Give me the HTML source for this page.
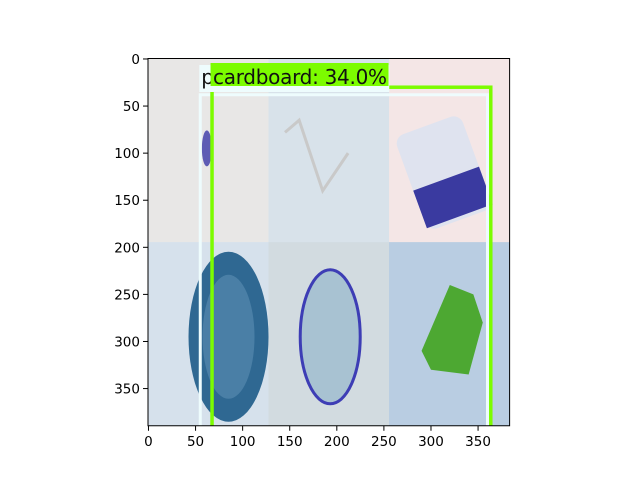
<!DOCTYPE html>
<html><head><meta charset="utf-8"><style>
html,body{margin:0;padding:0;background:#fff;}
svg{display:block;font-family:"DejaVu Sans","Liberation Sans",sans-serif;}
</style></head><body>
<svg id="chart" width="640" height="480" viewBox="0 0 640 480"></svg>
<script>
const xTicks = [0,50,100,150,200,250,300,350];
const yTicks = [0,50,100,150,200,250,300,350];
const imgW = 384, imgH = 390;
const boxLabels = ["p", "cardboard: 34.0%"];
const boxX0 = [55, 67.5];
const boxY0 = [38, 30];
const boxX1 = [360, 363.5];
const boxY1 = [400, 400];

const NS="http://www.w3.org/2000/svg";
const svg=document.getElementById('chart');
const L=148, T=58.5, S=0.9417;
const sx=v=>L+(v+0.5)*S, sy=v=>T+(v+0.5)*S;
const W=imgW*S, H=imgH*S;
function mk(tag,attrs,parent){const e=document.createElementNS(NS,tag);for(const k in attrs)e.setAttribute(k,attrs[k]);(parent||svg).appendChild(e);return e;}
const defs=mk('defs',{});
const cp=mk('clipPath',{id:'ax'},defs);mk('rect',{x:L,y:T,width:W,height:H},cp);
const g=mk('g',{'clip-path':'url(#ax)'});


const cw=128, ch=195;
const cellCols=[["#e8e7e6","#d8e2ea","#f4e6e6"],["#d6e1ec","#d2dbe0","#b9cde2"]];
for(let r=0;r<2;r++)for(let c=0;c<3;c++){
 const e=mk('rect',{x:sx(c*cw-0.5),y:sy(r*ch-0.5),width:cw*S+0.5,height:ch*S+0.5,fill:cellCols[r][c]},g);
 
 
}
mk('ellipse',{cx:sx(62),cy:sy(95),rx:5,ry:18,fill:"#3a3aa8",opacity:0.8},g);
mk('polyline',{points:`${sx(145)},${sy(78)} ${sx(160)},${sy(65)} ${sx(185)},${sy(140)} ${sx(212)},${sy(100)}`,fill:'none',stroke:'#c9c9c9','stroke-width':3},g);
mk('rect',{x:sx(275),y:sy(65),width:70,height:100,fill:"#dfe3ef",transform:`rotate(-20 ${sx(320)} ${sy(115)})`,rx:10},g);
mk('rect',{x:sx(275),y:sy(125),width:70,height:40,fill:"#3a3aa0",transform:`rotate(-20 ${sx(320)} ${sy(115)})`},g);
mk('ellipse',{cx:sx(85),cy:sy(295),rx:40,ry:85,fill:"#2f6892"},g);
mk('ellipse',{cx:sx(85),cy:sy(295),rx:26,ry:62,fill:"#4a7fa6"},g);
mk('ellipse',{cx:sx(193),cy:sy(295),rx:30,ry:67,fill:"#a8c2d2",stroke:"#3d3db5","stroke-width":3},g);
mk('path',{d:`M${sx(290)},${sy(310)} L${sx(320)},${sy(240)} L${sx(345)},${sy(250)} L${sx(355)},${sy(280)} L${sx(340)},${sy(335)} L${sx(300)},${sy(330)} Z`,fill:"#4da832"},g);
const boxColors=["#eefcfd","#7cfc00"], boxW=[3,3.5];
for(let i=0;i<2;i++){
 const r=mk('rect',{x:sx(boxX0[i]),y:sy(boxY0[i]),width:sx(boxX1[i])-sx(boxX0[i]),height:sy(boxY1[i])-sy(boxY0[i]),fill:'none',stroke:boxColors[i],'stroke-width':boxW[i]},g);
 
 
}
const lb1=mk('rect',{x:sx(boxX0[0])-1,y:65,width:190,height:27,fill:"#eefcfd"});


const t1=mk('text',{x:sx(boxX0[0])+1,y:84,'font-size':20,fill:'#111'});t1.textContent=boxLabels[0];


const lb2=mk('rect',{x:sx(boxX0[1])-1.5,y:63,width:178,height:23,fill:"#7cfc00"});


const t2=mk('text',{x:sx(boxX0[1])+1,y:84,'font-size':20,fill:'#111','textLength':174});t2.textContent=boxLabels[1];


const fr=mk('rect',{x:L,y:T,width:W,height:H,fill:'none',stroke:'#000','stroke-width':1});


for(const v of xTicks){const x=sx(v);mk('line',{x1:x,y1:T+H,x2:x,y2:T+H+5,stroke:'#000'});
 const t=mk('text',{x:x,y:T+H+20,'font-size':13.5,'text-anchor':'middle'});t.textContent=v;
 
 }
for(const v of yTicks){const y=sy(v);mk('line',{x1:L,y1:y,x2:L-5,y2:y,stroke:'#000'});
 const t=mk('text',{x:L-8,y:y+5,'font-size':13.5,'text-anchor':'end'});t.textContent=v;
 
 }
</script>
</body></html>
